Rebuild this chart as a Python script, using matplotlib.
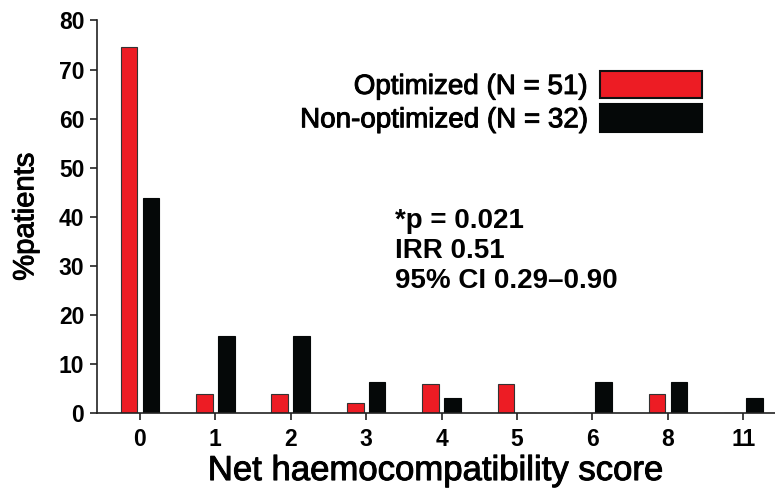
import matplotlib
matplotlib.use("Agg")
import matplotlib.pyplot as plt
import matplotlib.patheffects as pe
import numpy as np
from matplotlib.patches import Patch

categories = ["0", "1", "2", "3", "4", "5", "6", "8", "11"]
optimized = [74.5, 3.9, 3.9, 2.0, 5.9, 5.9, 0.0, 3.9, 0.0]
non_optimized = [43.75, 15.6, 15.6, 6.25, 3.1, 0.0, 6.25, 6.25, 3.1]
yticks = [0, 10, 20, 30, 40, 50, 60, 70, 80]

RED = "#ED1C24"
BLACK = "#050808"

plt.rcParams['font.family'] = ['Liberation Sans', 'DejaVu Sans']

fig = plt.figure(figsize=(7.75, 5.0), dpi=100)
ax = fig.add_axes([0.125, 0.174, 0.875, 0.785])

x = np.arange(len(categories))
w = 0.22
off = 0.145
ax.bar(x - off, optimized, width=w, color=RED, edgecolor="#333333", linewidth=0.8)
ax.bar(x + off, non_optimized, width=w, color=BLACK, edgecolor=BLACK, linewidth=0.8)

ax.set_xlim(-0.57, 8.42)
ax.set_ylim(0, 80)
ax.set_yticks(yticks)
ax.set_xticks(x)
ax.set_xticklabels(categories)
for lab in ax.get_xticklabels() + ax.get_yticklabels():
    lab.set_fontweight("bold")
    lab.set_fontsize(16.5)
ax.tick_params(axis="both", direction="out", length=5, width=1.2, color="#222222")
ax.tick_params(axis="x", pad=6)
ax.tick_params(axis="y", pad=4)

for s in ["top", "right"]:
    ax.spines[s].set_visible(False)
for s in ["left", "bottom"]:
    ax.spines[s].set_linewidth(1.2)
    ax.spines[s].set_color("#222222")

thick = [pe.withStroke(linewidth=0.7, foreground="black")]
ax.set_ylabel("%patients", fontsize=21, labelpad=14, path_effects=thick)
ax.set_xlabel("Net haemocompatibility score", fontsize=25, labelpad=2,
              path_effects=thick)

handles = [Patch(facecolor=RED, edgecolor="#111111", linewidth=1.5),
           Patch(facecolor=BLACK, edgecolor=BLACK, linewidth=1.5)]
leg = ax.legend(handles, ["Optimized (N = 51)", "Non-optimized (N = 32)"],
                loc="upper right", bbox_to_anchor=(0.892, 0.872), frameon=False,
                markerfirst=False, fontsize=20, handlelength=3.65, handleheight=1.15,
                labelspacing=0.15, handletextpad=0.45, borderpad=0,
                borderaxespad=0)
for t in leg.get_texts():
    t.set_path_effects(thick)

ax.text(0.44, 0.412, "*p = 0.021\nIRR 0.51\n95% CI 0.29\u20130.90",
        transform=ax.transAxes, fontsize=20, fontweight="bold",
        va="center", ha="left", linespacing=1.2)

fig.savefig("out.png", dpi=100)
